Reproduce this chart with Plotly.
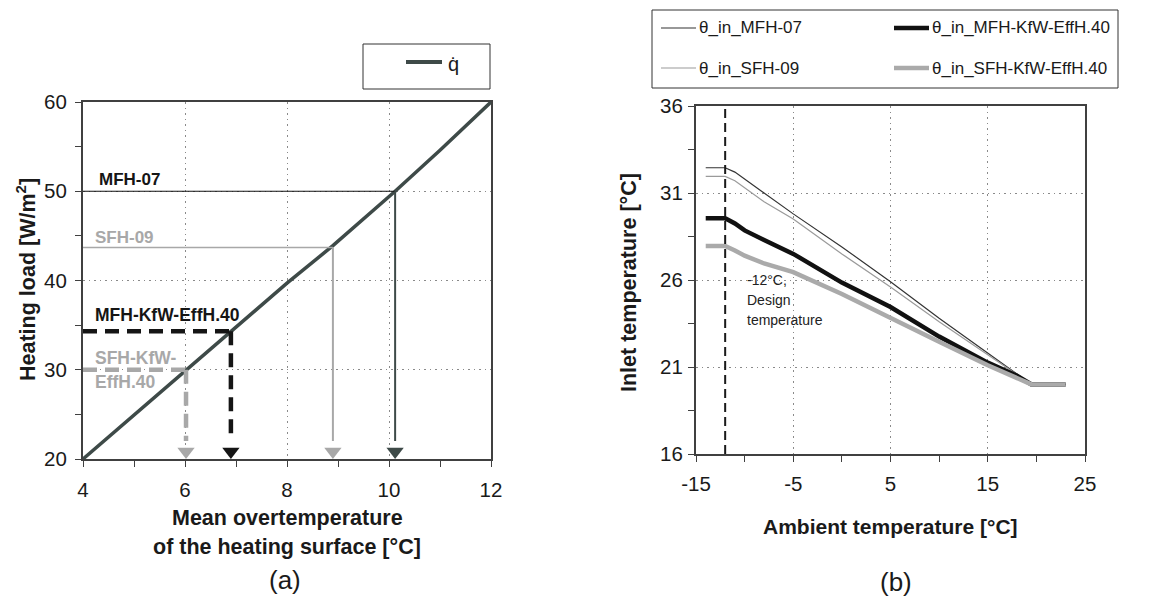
import plotly.graph_objects as go

W, H = 1165, 601

# ---------------- panel (a): heating load vs. mean overtemperature ----------------
q_overtemp = [4.0, 5.0, 6.0, 6.9, 8.0, 8.9, 9.5, 10.12, 11.0, 12.0]
q_load = [20.0, 24.9, 29.9, 34.2, 39.7, 43.9, 46.9, 50.0, 54.6, 60.0]

case_names = ["MFH-07", "SFH-09", "MFH-KfW-EffH.40", "SFH-KfW-EffH.40"]
case_load = [50.0, 43.7, 34.3, 30.0]
case_overtemp = [10.12, 8.9, 6.9, 6.02]

a_xticks = [4, 6, 8, 10, 12]
a_yticks = [20, 30, 40, 50, 60]

# ---------------- panel (b): inlet temperature vs. ambient temperature ----------------
ambient = [-14, -12, -11, -10, -8, -5, 0, 5, 10, 15, 18, 19.5, 23]
inlet_mfh07 = [32.45, 32.45, 32.2, 31.8, 31.0, 29.8, 27.9, 25.9, 23.8, 21.8, 20.6, 20.0, 20.0]
inlet_sfh09 = [31.95, 31.95, 31.7, 31.3, 30.5, 29.5, 27.5, 25.6, 23.6, 21.7, 20.6, 20.0, 20.0]
inlet_mfh_kfw = [29.55, 29.55, 29.25, 28.85, 28.3, 27.5, 25.85, 24.45, 22.75, 21.25, 20.5, 20.0, 20.0]
inlet_sfh_kfw = [27.95, 27.95, 27.7, 27.4, 26.95, 26.45, 25.2, 23.8, 22.45, 21.1, 20.4, 20.0, 20.0]
design_temp = -12

b_xticks = [-15, -5, 5, 15, 25]
b_xticklabels = ["-15", "-5", "5", "15", "25"]
b_yticks = [16, 21, 26, 31, 36]

FONT = "Liberation Sans, Arial, sans-serif"
Q_COLOR = "#3e4a48"
FRAME = "#404040"


def px(x):
    return x / W


def py(y):
    return 1 - y / H


# plot-area rectangles in pixels
A_L, A_R, A_T, A_B = 83, 491, 102, 459
B_L, B_R, B_T, B_B = 696, 1085, 106, 454

fig = go.Figure()

# ---- panel (a) traces ----
fig.add_trace(go.Scatter(x=q_overtemp, y=q_load, mode="lines",
                         line=dict(color=Q_COLOR, width=3.5),
                         xaxis="x", yaxis="y", showlegend=False, hoverinfo="skip"))

level_styles = [
    dict(h=dict(color="#111111", width=1.2), v=dict(color=Q_COLOR, width=2), head="#3e4a48"),
    dict(h=dict(color="#a8a8a8", width=1.6), v=dict(color="#a8a8a8", width=2), head="#a8a8a8"),
    dict(h=dict(color="#151515", width=4.5, dash="14px,8px"),
         v=dict(color="#151515", width=4.5, dash="14px,8px"), head="#151515"),
    dict(h=dict(color="#a8a8a8", width=4.5, dash="14px,8px"),
         v=dict(color="#a8a8a8", width=4.5, dash="14px,8px"), head="#a8a8a8"),
]

Y0A, Y1A = 20, 60
X0A, X1A = 4, 12
ypix_a = (A_B - A_T) / (Y1A - Y0A)
HEAD = 15  # marker size of the arrowheads
head_off = (HEAD / 2) / ypix_a  # triangle-down tip lies r px below its centre
shaft_end = Y0A + 1.2 * HEAD / ypix_a

for name, lv, xv, st in zip(case_names, case_load, case_overtemp, level_styles):
    fig.add_trace(go.Scatter(x=[X0A, xv], y=[lv, lv], mode="lines", line=st["h"],
                             xaxis="x", yaxis="y", showlegend=False, hoverinfo="skip"))
    fig.add_trace(go.Scatter(x=[xv, xv], y=[lv, shaft_end], mode="lines", line=st["v"],
                             xaxis="x", yaxis="y", showlegend=False, hoverinfo="skip"))
    fig.add_trace(go.Scatter(x=[xv], y=[Y0A + head_off], mode="markers",
                             marker=dict(symbol="triangle-down", size=HEAD, color=st["head"],
                                         line=dict(width=0)),
                             xaxis="x", yaxis="y", showlegend=False, hoverinfo="skip"))

# ---- panel (b) traces ----
series_b = [
    ("θ_in_MFH-07", inlet_mfh07, "#333333", 1.2),
    ("θ_in_SFH-09", inlet_sfh09, "#9a9a9a", 1.2),
    ("θ_in_MFH-KfW-EffH.40", inlet_mfh_kfw, "#111111", 4.5),
    ("θ_in_SFH-KfW-EffH.40", inlet_sfh_kfw, "#aaaaaa", 4.5),
]
for name, ys, col, wd in series_b:
    fig.add_trace(go.Scatter(x=ambient, y=ys, mode="lines", name=name,
                             line=dict(color=col, width=wd),
                             xaxis="x2", yaxis="y2", showlegend=False, hoverinfo="skip"))

Y0B, Y1B = 16, 36
fig.add_trace(go.Scatter(x=[design_temp, design_temp], y=[Y0B, Y1B], mode="lines",
                         line=dict(color="#1a1a1a", width=2, dash="9px,5px"),
                         xaxis="x2", yaxis="y2", showlegend=False, hoverinfo="skip"))

axis_common = dict(showline=True, mirror=True, linecolor=FRAME, linewidth=2,
                   ticks="outside", ticklen=6, tickwidth=1, tickcolor=FRAME,
                   showgrid=True, gridcolor="#8a8a8a", gridwidth=1, griddash="1.5px,4px",
                   zeroline=False, automargin=False,
                   tickfont=dict(family=FONT, size=20.5, color="#1a1a1a"))


def minor(step):
    return dict(dtick=step, ticks="outside", ticklen=6, tickcolor=FRAME, showgrid=False)


fig.update_layout(
    width=W, height=H, autosize=False,
    margin=dict(l=0, r=0, t=0, b=0, autoexpand=False),
    paper_bgcolor="white", plot_bgcolor="white",
    showlegend=False,
    xaxis=dict(domain=[px(A_L), px(A_R)], range=[X0A, X1A], tickvals=a_xticks,
               minor=minor(1), anchor="y", ticklabelstandoff=5, **axis_common),
    yaxis=dict(domain=[py(A_B), py(A_T)], range=[Y0A, Y1A], tickvals=a_yticks,
               minor=minor(5), anchor="x", ticklabelstandoff=4, **axis_common),
    xaxis2=dict(domain=[px(B_L), px(B_R)], range=[-15, 25], tickvals=b_xticks, ticktext=b_xticklabels,
                minor=minor(5), anchor="y2", ticklabelstandoff=4, **axis_common),
    yaxis2=dict(domain=[py(B_B), py(B_T)], range=[Y0B, Y1B], tickvals=b_yticks,
                minor=dict(tickvals=[18.5, 23.5, 28.5, 33.5], ticks="outside", ticklen=6,
                           tickcolor=FRAME, showgrid=False),
                anchor="x2", ticklabelstandoff=1, **axis_common),
)

ann = []


def text(x, y, s, size, color="#1a1a1a", bold=False, xanchor="center", angle=0):
    ann.append(dict(x=px(x), y=py(y), xref="paper", yref="paper", text=(f"<b>{s}</b>" if bold else s),
                    showarrow=False, xanchor=xanchor, yanchor="middle", textangle=angle,
                    font=dict(family=FONT, size=size, color=color)))


# axis titles and panel captions
text(26, 280, "Heating load [W/m<sup>2</sup>]", 21.5, bold=True, angle=-90)
text(287, 518, "Mean overtemperature", 21.5, bold=True)
text(287, 547, "of the heating surface [°C]", 21.5, bold=True)
text(285, 580, "(a)", 26)
text(629, 283, "Inlet temperature [°C]", 21.5, bold=True, angle=-90)
text(890, 526, "Ambient temperature [°C]", 21, bold=True)
text(896, 582, "(b)", 26)

# case labels in panel (a)
text(97, 180, "MFH-07", 17, "#151515", True, "left")
text(93, 237, "SFH-09", 17, "#a8a8a8", True, "left")
text(93, 315, "MFH-KfW-EffH.40", 17.5, "#151515", True, "left")
text(93, 358, "SFH-KfW-", 17.5, "#a8a8a8", True, "left")
text(93, 382, "EffH.40", 17.5, "#a8a8a8", True, "left")

# design temperature note in panel (b)
text(745, 280, "-12°C,", 14, "#222222", False, "left")
text(745, 300, "Design", 14, "#222222", False, "left")
text(745, 320, "temperature", 14, "#222222", False, "left")

shapes = []

# legend of panel (a)
shapes.append(dict(type="rect", xref="paper", yref="paper", x0=px(363), x1=px(490), y0=py(89), y1=py(44),
                   line=dict(color="#333333", width=1)))
shapes.append(dict(type="line", xref="paper", yref="paper", x0=px(406), x1=px(442), y0=py(62), y1=py(62),
                   line=dict(color=Q_COLOR, width=4)))
text(446, 64, "q\u0307", 20, "#1a1a1a", False, "left")

# legend of panel (b)
shapes.append(dict(type="rect", xref="paper", yref="paper", x0=px(652), x1=px(1118), y0=py(88), y1=py(10),
                   line=dict(color="#333333", width=1)))
legend_b = [
    ("θ_in_MFH-07", "#333333", 1.2, 661, 28),
    ("θ_in_SFH-09", "#9a9a9a", 1.2, 661, 68),
    ("θ_in_MFH-KfW-EffH.40", "#111111", 4.5, 894, 28),
    ("θ_in_SFH-KfW-EffH.40", "#aaaaaa", 4.5, 894, 68),
]
for name, col, wd, lx, ly in legend_b:
    shapes.append(dict(type="line", xref="paper", yref="paper", x0=px(lx), x1=px(lx + 35),
                       y0=py(ly), y1=py(ly), line=dict(color=col, width=wd)))
    text(lx + 36, ly, name, 17, "#1a1a1a", False, "left")

fig.update_layout(annotations=ann, shapes=shapes)

fig.write_html("out.html")
